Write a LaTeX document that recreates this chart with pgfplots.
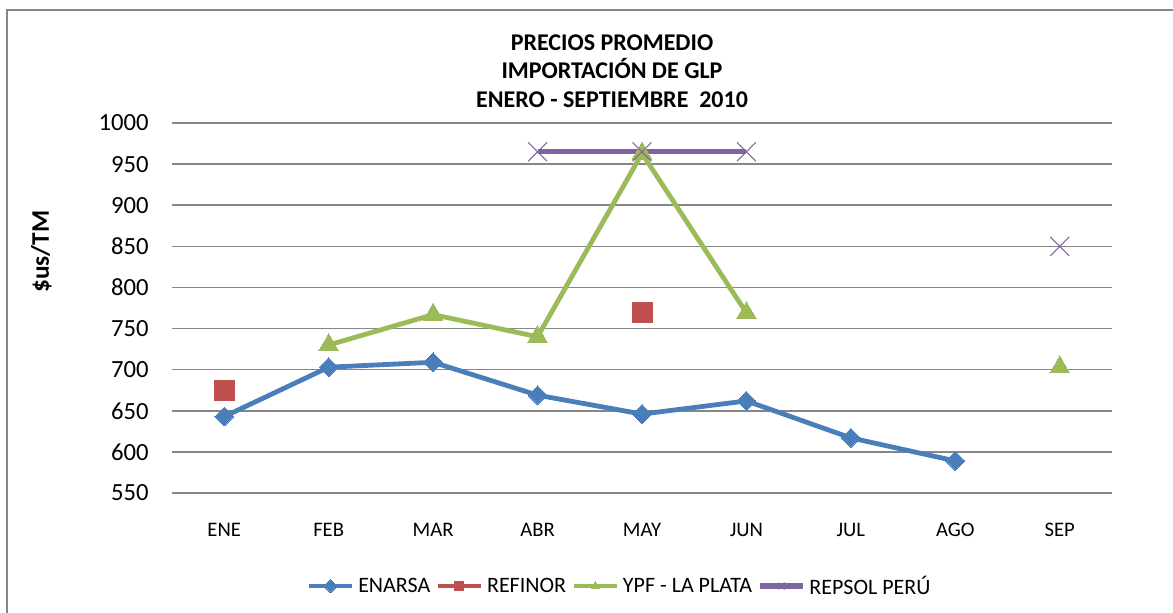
\documentclass[border=0pt]{standalone}
\usepackage{pgfplots}
\pgfplotsset{compat=1.18}
\usepackage{fontspec}
\setmainfont{Carlito}

\definecolor{cEnarsa}{HTML}{4A7EBB}
\definecolor{cRefinor}{HTML}{C0504D}
\definecolor{cYpf}{HTML}{9BBB59}
\definecolor{cRepsol}{HTML}{8064A2}
\definecolor{cGrid}{HTML}{868686}

\begin{document}
\begin{tikzpicture}
% page frame (1 px = 0.75pt, axis south west at origin)
\path[use as bounding box] (-129pt,-89.25pt) rectangle (750.75pt,369.75pt);
\draw[cGrid, line width=0.8pt] (-123.75pt,-95pt) rectangle (760pt,362.25pt);

\begin{axis}[
    at={(0,0)}, anchor=south west,
    scale only axis,
    width=705pt, height=277.5pt,
    xmin=-0.5, xmax=8.5,
    ymin=550, ymax=1000,
    ytick={550,600,...,1000},
    xtick={0,...,8},
    xticklabels={ENE,FEB,MAR,ABR,MAY,JUN,JUL,AGO,SEP},
    axis line style={draw=none},
    major tick length=0pt,
    ymajorgrids,
    grid style={cGrid, line width=1.1pt},
    /pgf/number format/assume math mode=true,
    /pgf/number format/1000 sep={},
    yticklabel style={font=\fontsize{18.5}{21}\selectfont, xshift=-14pt},
    xticklabel style={font=\fontsize{15.5}{18}\selectfont, yshift=-19pt},
    unbounded coords=jump,
    clip=false,
    legend columns=4,
    legend style={at={(336pt,-69.75pt)}, anchor=center, draw=none,
        font=\fontsize{16.5}{18}\selectfont,
        /tikz/every odd column/.append style={column sep=1pt},
        /tikz/every even column/.append style={column sep=2pt}},
    legend image code/.code={
        \draw[#1, mark size=3.5pt, mark repeat=2, mark phase=2]
            plot coordinates {(0pt,0pt) (16pt,0pt) (32pt,0pt)};},
]
\addplot[cEnarsa, line width=3.6pt, mark=square*, mark size=5pt,
    mark options={rotate=45, line width=0pt}] coordinates {
    (0,643) (1,703) (2,709) (3,669) (4,646) (5,662) (6,617) (7,589) (8,nan)};
\addlegendentry{ENARSA}
\addplot[cRefinor, line width=3.6pt, mark=square*, mark size=7.5pt,
    mark options={line width=0pt}] coordinates {
    (0,675) (1,nan) (2,nan) (3,nan) (4,770) (5,nan) (6,nan) (7,nan) (8,nan)};
\addlegendentry{REFINOR}
\addplot[cYpf, line width=3.6pt, mark=triangle*, mark size=8.5pt,
    mark options={line width=0pt}] coordinates {
    (0,nan) (1,730) (2,767) (3,740) (4,963) (5,769) (6,nan) (7,nan) (8,703)};
\addlegendentry{YPF - LA PLATA}
\addplot[cRepsol, line width=4pt, mark=x, mark size=10pt,
    mark options={line width=0.8pt}] coordinates {
    (0,nan) (1,nan) (2,nan) (3,965) (4,965) (5,965) (6,nan) (7,nan) (8,850)};
\addlegendentry{REPSOL PERÚ}
\end{axis}

\node[font=\bfseries\fontsize{18}{21.5}\selectfont, align=center]
    at (330pt,316.5pt) {PRECIOS PROMEDIO\\IMPORTACIÓN DE GLP\\ENERO - SEPTIEMBRE~~2010};
\node[font=\bfseries\fontsize{19}{22}\selectfont, rotate=90]
    at (-98pt,181pt) {\$us/TM};
\end{tikzpicture}
\end{document}
